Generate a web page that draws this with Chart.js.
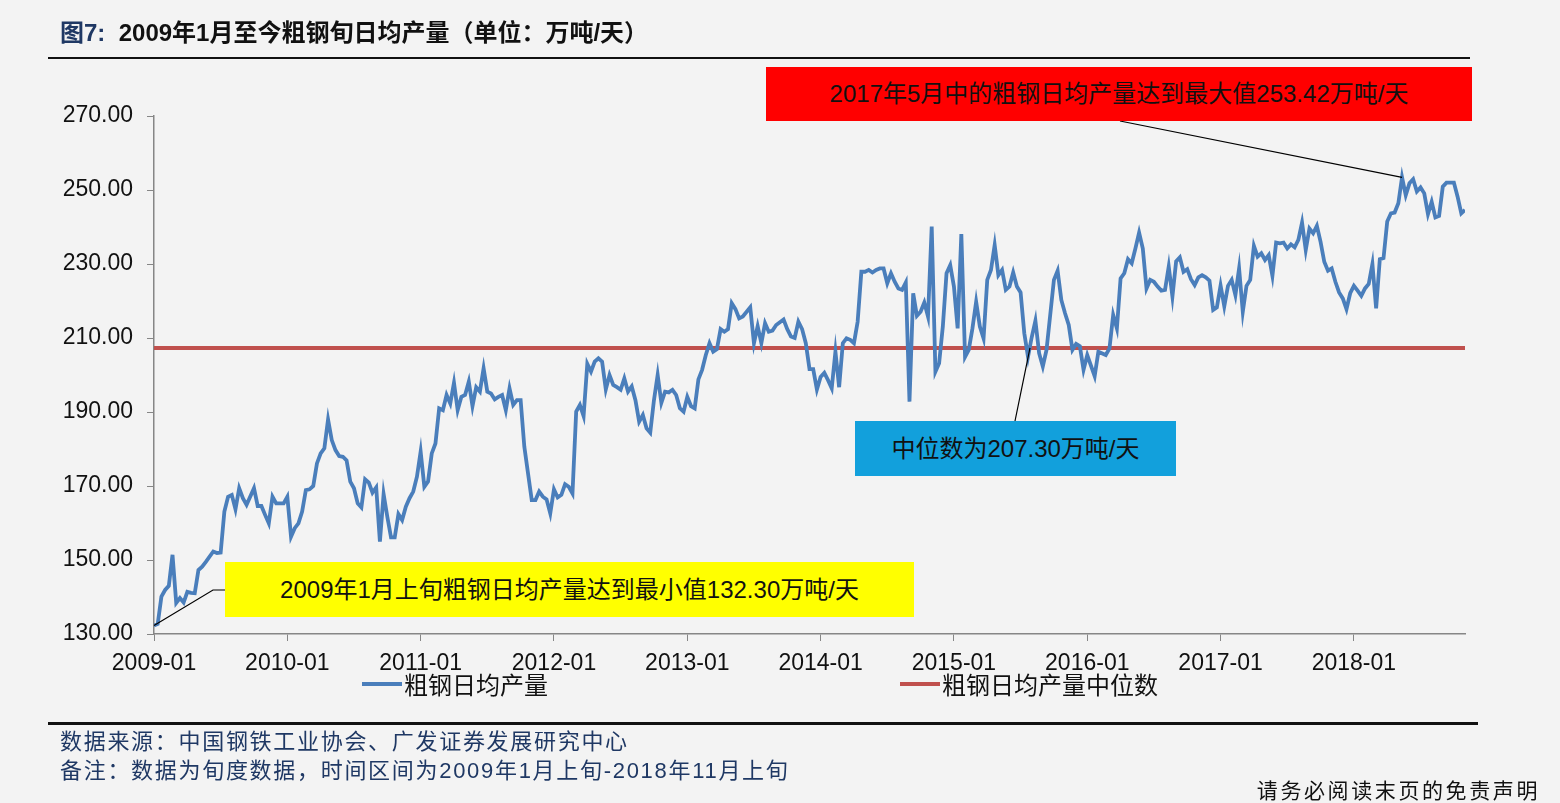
<!DOCTYPE html>
<html>
<head>
<meta charset="utf-8">
<script src="https://cdn.jsdelivr.net/npm/chart.js@4.4.0/dist/chart.umd.min.js"></script>
<style>
html, body { margin: 0; padding: 0; background: #f3f3f3; }
body { width: 1560px; height: 803px; position: relative; overflow: hidden;
       font-family: "Liberation Sans", "Noto Sans CJK SC", sans-serif; color: #111; }
#chartBox { position: absolute; left: 0; top: 0; width: 1560px; height: 803px; }
.title { position: absolute; left: 60px; top: 13px; font-size: 24px; font-weight: bold; white-space: nowrap; }
.title .fig { color: #1f3864; }
.rule { position: absolute; background: #111; }
.note { position: absolute; display: flex; align-items: center; justify-content: center; box-sizing: border-box;
        padding-bottom: 5px; font-size: 24px; white-space: nowrap; }
.legend { position: absolute; top: 666px; font-size: 24px; display: flex; align-items: center; white-space: nowrap; }
.legend i { display: inline-block; width: 40px; height: 4px; margin-right: 2px; }
.foot { position: absolute; left: 60px; font-size: 22px; letter-spacing: 1.7px; color: #1f3864; white-space: nowrap; }
.disclaimer { position: absolute; right: 20px; top: 774px; font-size: 21px; letter-spacing: 2.6px; white-space: nowrap; }
</style>
</head>
<body>
<div id="chartBox"><canvas id="steelChart" width="1560" height="803"></canvas></div>

<div class="title"><span class="fig">图7:</span>&nbsp; 2009年1月至今粗钢旬日均产量（单位：万吨/天）</div>
<div class="rule" style="left:48px; top:57px; width:1422px; height:2px;"></div>

<div class="note" style="left:766px; top:67px; width:706px; height:54px; background:#ff0000;">2017年5月中的粗钢日均产量达到最大值253.42万吨/天</div>
<div class="note" style="left:855px; top:421px; width:321px; height:55px; background:#12a0dc;">中位数为207.30万吨/天</div>
<div class="note" style="left:225px; top:562px; width:689px; height:55px; background:#ffff00;">2009年1月上旬粗钢日均产量达到最小值132.30万吨/天</div>

<div class="legend" style="left:362px;"><i style="background:#4a7ebb"></i>粗钢日均产量</div>
<div class="legend" style="left:900px;"><i style="background:#c0504d"></i>粗钢日均产量中位数</div>

<div class="rule" style="left:48px; top:722px; width:1430px; height:3px;"></div>
<div class="foot" style="top:723px;">数据来源：中国钢铁工业协会、广发证券发展研究中心</div>
<div class="foot" style="top:752px;">备注：数据为旬度数据，时间区间为2009年1月上旬-2018年11月上旬</div>
<div class="disclaimer">请务必阅读末页的免责声明</div>

<script>
// 旬序号（0 = 2009年1月上旬，每年36旬）
const dekads = [
  0,1,2,3,4,5,6,7,8,9,10,11,12,13,14,16,17,18,19,20,21,22,23,24,25,27,28,29,30,31,32,33,35,
  36,37,38,39,40,41,42,43,44,45,46,47,48,49,50,51,52,53,54,55,56,57,58,59,60,61,62,63,64,65,66,67,68,69,70,71,
  72,73,74,75,76,77,78,79,80,81,82,83,84,85,86,87,88,89,90,91,92,93,94,95,96,97,98,99,100,101,102,103,104,105,106,107,
  108,109,110,111,112,113,114,115,116,117,118,119,120,121,122,123,124,125,126,127,128,129,130,131,132,133,134,135,136,137,138,139,140,141,142,143,
  144,145,146,147,148,149,150,151,152,153,154,155,156,157,158,159,161,162,163,164,165,166,167,168,170,171,172,173,174,175,176,177,178,179,
  180,181,182,183,184,185,186,187,188,189,190,191,192,193,194,195,196,197,198,199,200,201,202,203,204,205,206,207,208,209,210,211,212,213,214,215,
  216,217,218,219,220,221,222,223,224,225,226,227,228,229,230,231,232,233,234,235,236,237,238,239,240,241,243,244,245,246,247,248,249,250,251,
  252,254,255,257,258,259,260,261,262,263,264,265,266,267,268,269,270,271,272,273,274,275,276,277,278,279,280,281,282,283,284,285,286,287,
  288,289,290,291,292,293,294,295,296,297,298,299,300,301,302,303,304,305,306,307,308,309,310,311,312,313,314,315,316,317,318,319,320,321,322,
  323,324,325,326,327,328,329,330,331,332,333,334,335,336,337,338,339,340,341,342,343,344,345,346,347,348,349,351,352,353,354
];

// 粗钢日均产量（万吨/天）
const output = [
  132.30,132.7,140.1,141.9,143.0,151.4,138.4,139.7,138.5,141.4,141.1,141.0,147.3,148.2,149.5,152.3,151.9,152.0,163.1,167.1,167.6,163.7,169.4,166.7,164.9,169.4,164.6,164.6,162.2,159.9,167.1,165.3,165.3,
  167.1,156.3,158.6,159.9,163.1,168.9,169.1,170.0,176.1,178.8,180.2,188.0,182.4,179.7,178.1,177.9,176.9,171.2,169.4,165.3,164.2,171.8,170.9,168.2,169.6,155.0,167.8,161.7,156.1,156.1,162.4,160.8,164.4,166.7,168.5,172.5,
  179.3,169.8,171.2,178.8,181.5,191.0,190.5,194.6,192.3,197.9,190.5,194.1,194.6,198.2,191.6,196.7,195.5,201.8,195.5,195.0,193.4,194.1,194.6,190.5,196.4,191.9,193.2,193.2,180.6,173.4,166.2,166.2,168.5,167.1,166.4,162.6,
  169.1,166.9,167.6,170.5,169.8,168.0,190.1,191.9,188.9,203.0,200.9,203.6,204.5,203.6,196.1,200.0,197.3,196.7,196.0,199.1,195.5,196.9,193.2,187.4,189.2,185.6,184.4,193.2,200.0,192.5,195.5,195.3,196.0,194.6,191.0,190.1,
  194.1,191.6,191.0,198.8,201.4,205.4,208.6,206.3,207.0,212.4,211.7,212.4,219.4,217.8,215.3,215.8,218.3,208.6,213.2,208.6,214.0,211.7,212.0,213.5,215.0,212.4,210.4,210.0,214.4,212.4,208.6,201.6,201.6,196.1,
  199.5,200.6,198.6,196.4,206.3,196.7,208.6,209.9,209.5,208.6,214.4,227.9,227.9,228.4,227.7,228.4,228.8,228.8,224.8,227.5,225.2,223.4,223.0,225.0,192.8,222.1,216.0,217.1,219.6,215.8,240.1,200.9,203.2,213.1,227.5,229.7,
  223.9,212.6,238.1,204.9,206.8,212.6,219.8,213.1,209.9,225.7,228.4,235.1,227.0,228.4,223.0,223.9,227.7,223.9,222.3,211.3,204.9,210.2,214.7,205.9,202.3,206.8,225.7,228.2,220.3,216.7,213.5,206.8,208.4,207.8,201.4,
  205.4,199.7,206.3,205.4,207.2,216.2,212.6,226.1,227.5,231.3,230.2,234.2,238.5,234.2,223.4,225.7,225.2,223.9,222.8,223.0,229.3,221.2,230.7,231.8,227.9,228.6,225.9,224.3,226.4,227.0,226.4,225.5,217.6,218.3,
  224.2,218.6,224.1,225.7,221.6,228.8,217.1,224.1,225.7,234.9,232.0,232.9,231.1,232.4,226.8,235.8,235.6,235.8,234.2,235.3,234.5,236.5,241.2,233.8,239.6,238.3,240.3,236.0,230.6,228.2,228.8,225.2,222.3,220.7,217.8,
  222.1,224.1,222.8,221.4,223.4,224.6,230.0,218.0,231.3,231.6,241.5,243.7,243.9,246.4,253.42,248.6,251.8,252.9,249.6,250.7,249.1,243.5,246.8,242.6,243.0,250.9,252.0,252.0,248.2,243.7,244.6
];

const MEDIAN = 207.30;
const MAX_DEKAD = 337, MAX_VALUE = 253.42;
const FIRST_DEKAD = 0, LAST_DEKAD = 354;
const Y_MIN = 130, Y_MAX = 270, Y_STEP = 20;
const START_YEAR = 2009;

const seriesPoints = dekads.map((d, i) => ({ x: d, y: output[i] }));
const medianPoints = [{ x: FIRST_DEKAD, y: MEDIAN }, { x: LAST_DEKAD, y: MEDIAN }];

// 标注框的引线
const leaderLines = {
  id: 'leaderLines',
  afterDatasetsDraw(chart) {
    const { ctx, scales: { x, y } } = chart;
    ctx.save();
    ctx.strokeStyle = '#000';
    ctx.lineWidth = 1.2;
    ctx.beginPath();
    // 最大值
    ctx.moveTo(1120, 121);
    ctx.lineTo(x.getPixelForValue(MAX_DEKAD), y.getPixelForValue(MAX_VALUE));
    // 中位数
    ctx.moveTo(1015, 421);
    ctx.lineTo(1030, y.getPixelForValue(MEDIAN));
    // 最小值
    ctx.moveTo(225, 590);
    ctx.lineTo(213, 590);
    ctx.lineTo(x.getPixelForValue(FIRST_DEKAD), y.getPixelForValue(output[0]));
    ctx.stroke();
    ctx.restore();
  }
};

const tickFont = { family: '"Liberation Sans", Arial, sans-serif', size: 23 };

new Chart(document.getElementById('steelChart').getContext('2d'), {
  type: 'line',
  data: {
    datasets: [
      {
        label: '粗钢日均产量',
        data: seriesPoints,
        borderColor: '#4a7ebb',
        borderWidth: 3.8,
        pointRadius: 0,
        tension: 0,
        fill: false
      },
      {
        label: '粗钢日均产量中位数',
        data: medianPoints,
        borderColor: '#c0504d',
        borderWidth: 4,
        pointRadius: 0,
        fill: false
      }
    ]
  },
  options: {
    responsive: false,
    animation: false,
    devicePixelRatio: 1,
    layout: { autoPadding: false, padding: { left: 0, right: 95, top: 116, bottom: 103 } },
    plugins: { legend: { display: false }, tooltip: { enabled: false } },
    scales: {
      x: {
        type: 'linear',
        min: FIRST_DEKAD,
        max: LAST_DEKAD,
        afterBuildTicks(scale) {
          scale.ticks = scale.ticks.filter(t => t.value % 36 === 0);
        },
        afterFit(scale) { scale.height = 66; },
        ticks: {
          stepSize: 36,
          autoSkip: false,
          maxRotation: 0,
          padding: 9,
          color: '#111',
          font: tickFont,
          callback: v => (START_YEAR + v / 36) + '-01'
        },
        grid: { drawOnChartArea: false, drawTicks: true, tickLength: 7, color: '#868686' },
        border: { color: '#868686', width: 1.5 }
      },
      y: {
        min: Y_MIN,
        max: Y_MAX,
        afterFit(scale) { scale.width = 154; },
        ticks: {
          stepSize: Y_STEP,
          padding: 14,
          color: '#111',
          font: tickFont,
          callback: v => v.toFixed(2)
        },
        grid: { drawOnChartArea: false, drawTicks: true, tickLength: 7, color: '#868686' },
        border: { color: '#868686', width: 1.5 }
      }
    }
  },
  plugins: [leaderLines]
});
</script>
</body>
</html>
